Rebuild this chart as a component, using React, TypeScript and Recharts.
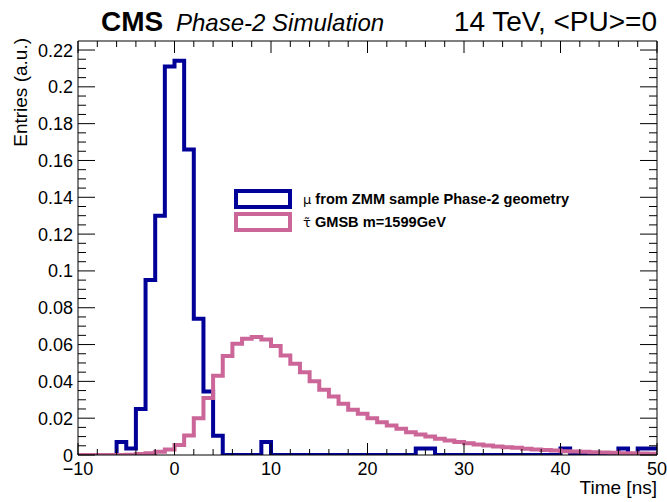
import React from 'react';
import { ComposedChart, Line, XAxis, YAxis, Legend, Label } from 'recharts';

// 1 ns bins, low edges from -10 to 49, plus the closing edge at 50
const binEdges = [
  -10, -9, -8, -7, -6, -5, -4, -3, -2, -1,
  0, 1, 2, 3, 4, 5, 6, 7, 8, 9,
  10, 11, 12, 13, 14, 15, 16, 17, 18, 19,
  20, 21, 22, 23, 24, 25, 26, 27, 28, 29,
  30, 31, 32, 33, 34, 35, 36, 37, 38, 39,
  40, 41, 42, 43, 44, 45, 46, 47, 48, 49,
  50,
];

const muEntries = [
  0, 0, 0, 0, 0.007, 0.0035, 0.025, 0.095, 0.13, 0.211,
  0.2142, 0.166, 0.074, 0.0345, 0.0105, 0, 0, 0, 0, 0.007,
  0, 0, 0, 0, 0, 0, 0, 0, 0, 0,
  0, 0, 0, 0, 0, 0.0035, 0.0035, 0, 0, 0,
  0, 0, 0, 0, 0, 0, 0, 0, 0, 0,
  0.0035, 0, 0, 0, 0, 0, 0.0035, 0, 0.0035, 0.0035,
];

const stauEntries = [
  0, 0, 0, 0, 0, 0.0002, 0.0005, 0.001, 0.0018, 0.003,
  0.0055, 0.0106, 0.02, 0.031, 0.043, 0.0538, 0.0605, 0.0632, 0.0641, 0.0627,
  0.0592, 0.0541, 0.0496, 0.045, 0.04, 0.0355, 0.0318, 0.0278, 0.0246, 0.0224,
  0.02, 0.0178, 0.016, 0.0142, 0.0124, 0.0111, 0.01, 0.0088, 0.0079, 0.007,
  0.0064, 0.0057, 0.0052, 0.0046, 0.0042, 0.0039, 0.0034, 0.003, 0.0027, 0.0024,
  0.0021, 0.0019, 0.0017, 0.0015, 0.0013, 0.0012, 0.001, 0.0009, 0.0008, 0.0007,
];

const xTicks = [
  -10, -8, -6, -4, -2, 0, 2, 4, 6, 8, 10, 12, 14, 16, 18, 20, 22, 24, 26, 28,
  30, 32, 34, 36, 38, 40, 42, 44, 46, 48, 50,
];
const yTicks = Array.from({ length: 45 }, (_, i) => +(i * 0.005).toFixed(3));

const muName = 'μ from ZMM sample Phase-2 geometry';
const stauName = 'τ̃ GMSB m=1599GeV';
const muColor = '#000099';
const stauColor = '#cc6699';

const FONT = '"Liberation Sans", Arial, Helvetica, sans-serif';

const data = binEdges.map((t, i) => ({
  t,
  mu: muEntries[Math.min(i, muEntries.length - 1)],
  stau: stauEntries[Math.min(i, stauEntries.length - 1)],
}));

const isMajorX = (v: number) => v % 10 === 0;
const isMajorY = (v: number) => Math.round(v * 1000) % 20 === 0;
const fmtX = (v: number) => (v < 0 ? '\u2212' + Math.abs(v) : String(v));
const fmtY = (v: number) => (v === 0 ? '0' : String(Number(v.toFixed(2))));

const BottomTick = (props: any) => {
  const { x, y, payload } = props;
  const major = isMajorX(payload.value);
  return (
    <g>
      <line x1={x} x2={x} y1={y} y2={y - (major ? 12 : 6)} stroke="#000" strokeWidth={1} />
      {major && (
        <text x={x} y={y + 20} textAnchor="middle" fontSize={18} fontFamily={FONT} fill="#000">
          {fmtX(payload.value)}
        </text>
      )}
    </g>
  );
};

const TopTick = (props: any) => {
  const { x, y, payload } = props;
  const major = isMajorX(payload.value);
  return <line x1={x} x2={x} y1={y} y2={y + (major ? 12 : 6)} stroke="#000" strokeWidth={1} />;
};

const LeftTick = (props: any) => {
  const { x, y, payload } = props;
  const major = isMajorY(payload.value);
  return (
    <g>
      <line x1={x} x2={x + (major ? 17 : 8)} y1={y} y2={y} stroke="#000" strokeWidth={1} />
      {major && (
        <text x={x - 5} y={y + 6.5} textAnchor="end" fontSize={18} fontFamily={FONT} fill="#000">
          {fmtY(payload.value)}
        </text>
      )}
    </g>
  );
};

const RightTick = (props: any) => {
  const { x, y, payload } = props;
  const major = isMajorY(payload.value);
  return <line x1={x} x2={x - (major ? 17 : 8)} y1={y} y2={y} stroke="#000" strokeWidth={1} />;
};

const HistLegend = (props: any) => {
  const { payload } = props;
  return (
    <div style={{ display: 'flex', flexDirection: 'column', gap: 3.4 }}>
      {(payload || []).map((entry: any) => {
        const name = String(entry.value);
        const sp = name.indexOf(' ');
        return (
          <div key={name} style={{ display: 'flex', alignItems: 'center', height: 20 }}>
            <div
              style={{
                width: 58,
                height: 20,
                boxSizing: 'border-box',
                border: `4px solid ${entry.color}`,
                marginRight: 11,
              }}
            />
            <span style={{ fontFamily: FONT, fontSize: 14.6, color: '#000', whiteSpace: 'pre' }}>
              <span style={{ fontFamily: '"DejaVu Sans", sans-serif', fontSize: 13 }}>{name.slice(0, sp)}</span>
              <span style={{ fontWeight: 'bold' }}>{name.slice(sp)}</span>
            </span>
          </div>
        );
      })}
    </div>
  );
};

const TitleLabel = (props: any) => {
  const vb = props.viewBox || { x: 78, width: 579 };
  return (
    <g fontFamily={FONT} fill="#000">
      <text x={vb.x + 23} y={31} fontSize={28} fontWeight="bold">CMS</text>
      <text x={vb.x + 98} y={31} fontSize={24} fontStyle="italic">Phase-2 Simulation</text>
      <text x={vb.x + vb.width} y={31} fontSize={28} textAnchor="end">14 TeV, &lt;PU&gt;=0</text>
    </g>
  );
};

const XTitle = (props: any) => {
  const vb = props.viewBox;
  return (
    <text x={vb.x + vb.width} y={vb.y + 39} textAnchor="end" fontSize={19} fontFamily={FONT} fill="#000">
      Time [ns]
    </text>
  );
};

const YTitle = (props: any) => {
  const vb = props.viewBox;
  const x = vb.x + 27;
  const y = vb.y - 3;
  return (
    <text
      x={x}
      y={y}
      transform={`rotate(-90, ${x}, ${y})`}
      textAnchor="end"
      fontSize={19}
      fontFamily={FONT}
      fill="#000"
    >
      Entries (a.u.)
    </text>
  );
};

export default function App() {
  return (
    <div style={{ position: 'absolute', left: 0, top: 0, background: '#fff' }}>
      <ComposedChart width={667} height={502} data={data} margin={{ top: 40, right: 9, bottom: 0, left: 0 }}>
        <XAxis
          dataKey="t"
          type="number"
          domain={[-10, 50]}
          ticks={xTicks}
          interval={0}
          allowDataOverflow
          height={47}
          tickSize={0}
          tickMargin={0}
          tickLine={false}
          axisLine={{ stroke: '#000', strokeWidth: 1 }}
          tick={<BottomTick />}
        >
          <Label content={<XTitle />} />
        </XAxis>
        <XAxis
          xAxisId="top"
          orientation="top"
          dataKey="t"
          type="number"
          domain={[-10, 50]}
          ticks={xTicks}
          interval={0}
          allowDataOverflow
          height={1}
          tickSize={0}
          tickMargin={0}
          tickLine={false}
          axisLine={{ stroke: '#000', strokeWidth: 1 }}
          tick={<TopTick />}
        >
          <Label content={<TitleLabel />} />
        </XAxis>
        <YAxis
          type="number"
          domain={[0, 0.2249]}
          ticks={yTicks}
          interval={0}
          allowDataOverflow
          width={78}
          tickSize={0}
          tickMargin={0}
          tickLine={false}
          axisLine={{ stroke: '#000', strokeWidth: 1 }}
          tick={<LeftTick />}
        >
          <Label content={<YTitle />} />
        </YAxis>
        <YAxis
          yAxisId="right"
          orientation="right"
          type="number"
          domain={[0, 0.2249]}
          ticks={yTicks}
          interval={0}
          allowDataOverflow
          width={1}
          tickSize={0}
          tickMargin={0}
          tickLine={false}
          axisLine={{ stroke: '#000', strokeWidth: 1 }}
          tick={<RightTick />}
        />
        <Legend
          layout="horizontal"
          verticalAlign="middle"
          align="center"
          wrapperStyle={{ left: 234, top: 189, width: 'auto', height: 'auto' }}
          content={<HistLegend />}
        />
        <Line
          dataKey="mu"
          name={muName}
          type="stepAfter"
          stroke={muColor}
          strokeWidth={4}
          strokeLinejoin="miter"
          dot={false}
          activeDot={false}
          isAnimationActive={false}
        />
        <Line
          dataKey="stau"
          name={stauName}
          type="stepAfter"
          stroke={stauColor}
          strokeWidth={4}
          strokeLinejoin="miter"
          dot={false}
          activeDot={false}
          isAnimationActive={false}
        />
      </ComposedChart>
    </div>
  );
}
